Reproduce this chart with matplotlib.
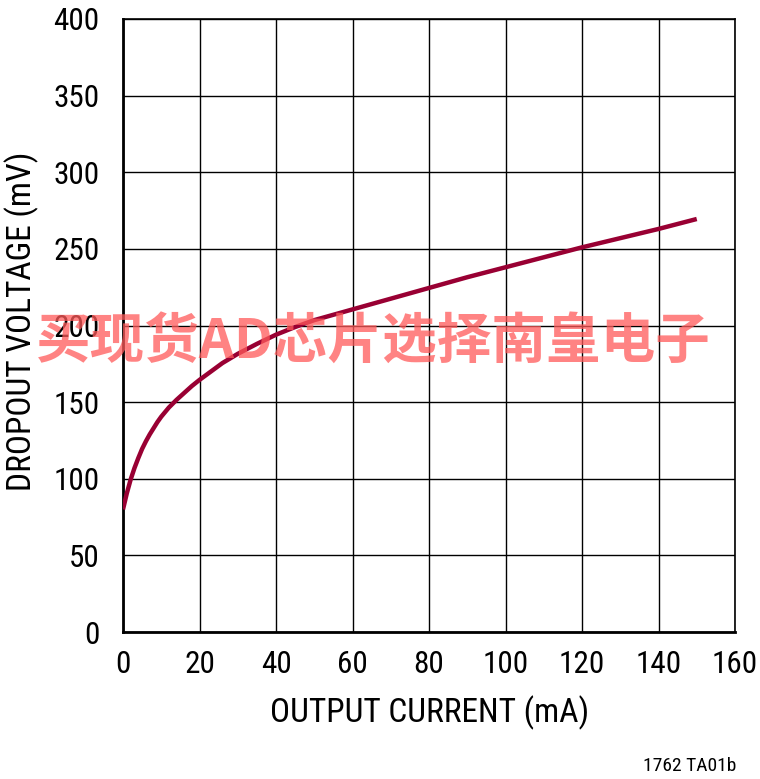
import matplotlib
matplotlib.use("Agg")
import matplotlib.pyplot as plt
from matplotlib import font_manager

names = {f.name for f in font_manager.fontManager.ttflist}
cond = None
for c in ["Liberation Sans Narrow", "Roboto Condensed", "Open Sans Condensed", "DejaVu Sans Condensed"]:
    if c in names:
        cond = c
        break
stretch = "normal"
if cond is None:
    cond = "DejaVu Sans"
    if any(f.name == "DejaVu Sans" and f.stretch == "condensed" for f in font_manager.fontManager.ttflist):
        stretch = "condensed"

current_mA = [0, 1, 2, 3, 4, 5, 6, 7, 8, 9, 10, 12, 14, 16, 18, 20, 23, 26, 30, 35, 40, 45, 50, 55, 60,
              70, 80, 90, 100, 110, 120, 130, 140, 150]
dropout_mV = [80, 90.5, 99.5, 107, 113.5, 119.5, 124.5, 129, 133, 137, 140.5, 146.5, 151.5, 156, 160.5, 164.5,
              170, 175.5, 181.5, 188, 194, 199, 203.5, 207, 210.5,
              217.5, 224.5, 231.5, 238, 244.5, 251, 257, 263, 269.5]
x_ticks = [0, 20, 40, 60, 80, 100, 120, 140, 160]
y_ticks = [0, 50, 100, 150, 200, 250, 300, 350, 400]
x_label = "OUTPUT CURRENT (mA)"
y_label = "DROPOUT VOLTAGE (mV)"
footnote = "1762 TA01b"
watermark = "买现货AD芯片选择南皇电子"

fig = plt.figure(figsize=(7.6, 7.79), dpi=100)
ax = fig.add_axes([123/760, 1-632/779, (735-123)/760, (632-19)/779])
ax.plot(current_mA, dropout_mV, color="#990033", lw=3.2, solid_capstyle="butt",
        solid_joinstyle="round", zorder=3)
ax.set_xlim(0, 160)
ax.set_ylim(0, 400)
ax.set_xticks(x_ticks)
ax.set_yticks(y_ticks)
ax.grid(True, color="black", lw=1.0)
for s in ["left", "bottom"]:
    ax.spines[s].set_linewidth(2.0)
for s in ["top", "right"]:
    ax.spines[s].set_linewidth(1.2)
ax.tick_params(length=0, labelsize=22.5)
ax.tick_params(axis="x", pad=13)
ax.tick_params(axis="y", pad=17)
for lab in ax.get_xticklabels() + ax.get_yticklabels():
    lab.set_fontfamily(cond)
    lab.set_fontstretch(stretch)
ax.set_xlabel(x_label, fontsize=24, family=cond, stretch=stretch, va="center")
ax.set_ylabel(y_label, fontsize=24, family=cond, stretch=stretch, va="center")
ax.xaxis.set_label_coords((430-123)/612, (632-713)/613)
ax.yaxis.set_label_coords((22-123)/612, (632-321)/613)

fig.text(690/760, 1-766/779, footnote, ha="center", va="center", fontsize=14,
         family=cond, stretch=stretch)
fig.text(373/760, 1-343/779, watermark, ha="center", va="center", fontsize=39.3,
         family=["Noto Sans CJK SC", "DejaVu Sans"], fontweight="bold",
         color="#ff5a5a", alpha=0.75, zorder=10)

fig.savefig("out.png", dpi=100)
